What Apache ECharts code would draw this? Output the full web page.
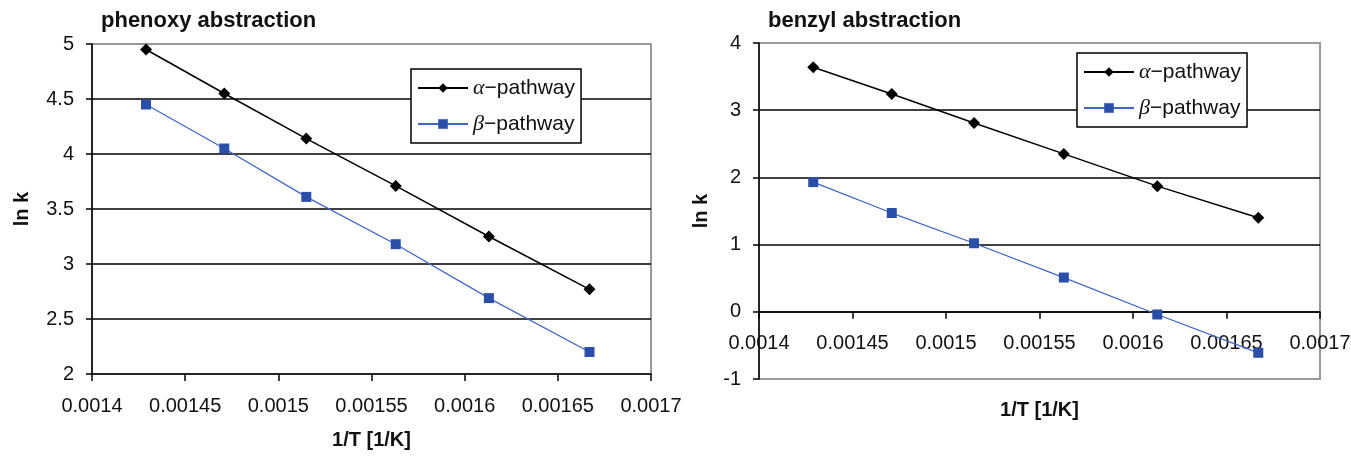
<!DOCTYPE html>
<html><head><meta charset="utf-8">
<script src="https://cdn.jsdelivr.net/npm/echarts@6/dist/echarts.min.js"></script>
<style>html,body{margin:0;padding:0;background:#fff}#c{width:1351px;height:456px}</style>
</head><body><div id="c"></div>
<script>
// inverse temperature values (1/K)
const invT = [0.001429, 0.001471, 0.001515, 0.001563, 0.001613, 0.001667];
// phenoxy abstraction, ln k
const phenoxyAlpha = [4.95, 4.55, 4.14, 3.71, 3.25, 2.77];
const phenoxyBeta  = [4.45, 4.05, 3.61, 3.18, 2.69, 2.20];
// benzyl abstraction, ln k
const benzylAlpha = [3.64, 3.24, 2.81, 2.35, 1.87, 1.40];
const benzylBeta  = [1.93, 1.47, 1.02, 0.51, -0.04, -0.61];
const xTickLabels = ['0.0014', '0.00145', '0.0015', '0.00155', '0.0016', '0.00165', '0.0017'];
const seriesNames = ['α−pathway', 'β−pathway'];
const titles = ['phenoxy abstraction', 'benzyl abstraction'];
const xName = '1/T [1/K]';
const yName = 'ln k';

const FONT = 'Liberation Sans';
const FS = 20;
const BLACK = '#000';
const BLUE_M = '#2A4FA8';
const BLUE_L = '#3F66C8';

function pairs(xs, ys) { return xs.map((x, i) => [x, ys[i]]); }

function xAxis(gi, gap, margin, onZero) {
  return {
    type: 'value', gridIndex: gi, min: 0.0014, max: 0.0017, interval: 0.00005,
    axisLine: { show: true, onZero: onZero, lineStyle: { color: BLACK, width: 1.5 } },
    axisTick: { show: true, length: 7, lineStyle: { color: BLACK, width: 1.5 } },
    axisLabel: { color: '#111', fontFamily: FONT, fontSize: FS, margin: margin,
      formatter: v => xTickLabels[Math.round((v - 0.0014) / 0.00005)] },
    splitLine: { show: false },
    name: xName, nameLocation: 'middle', nameGap: gap,
    nameTextStyle: { color: '#111', fontFamily: FONT, fontSize: FS, fontWeight: 'bold' }
  };
}
function yAxis(gi, min, max, interval, gap) {
  return {
    type: 'value', gridIndex: gi, min: min, max: max, interval: interval,
    axisLine: { show: true, onZero: false, lineStyle: { color: BLACK, width: 1.5 } },
    axisTick: { show: true, length: 6, lineStyle: { color: BLACK, width: 1.5 } },
    axisLabel: { color: '#111', fontFamily: FONT, fontSize: FS, margin: 18 },
    splitLine: { show: true, showMinLine: false, showMaxLine: false, lineStyle: { color: BLACK, width: 1.5 } },
    name: yName, nameLocation: 'middle', nameGap: gap,
    nameTextStyle: { color: '#111', fontFamily: FONT, fontSize: FS, fontWeight: 'bold' }
  };
}
function mkSeries(gi, name, data, isAlpha) {
  return {
    type: 'line', name: name, xAxisIndex: gi, yAxisIndex: gi, data: data,
    symbol: isAlpha ? 'diamond' : 'rect', symbolSize: isAlpha ? [12, 12] : [10, 10],
    showAllSymbol: true,
    lineStyle: { color: isAlpha ? BLACK : BLUE_L, width: isAlpha ? 1.5 : 1.3 },
    itemStyle: { color: isAlpha ? BLACK : BLUE_M },
    emphasis: { disabled: true }, animation: false, z: 5
  };
}
function legend(left, top) {
  return {
    left: left, top: top, orient: 'vertical',
    backgroundColor: '#fff', borderColor: BLACK, borderWidth: 1.5,
    padding: [7, 6, 7, 6], itemGap: 12, itemWidth: 50, itemHeight: 12,
    data: seriesNames,
    selectedMode: false,
    formatter: n => '{g|' + n.charAt(0) + '}' + n.slice(1),
    textStyle: { color: '#111', fontFamily: FONT, fontSize: 21, lineHeight: 24,
      rich: { g: { fontFamily: 'Liberation Serif', fontStyle: 'italic', fontSize: 22, lineHeight: 24, color: '#111' } } },
    z: 10
  };
}

const chart = echarts.init(document.getElementById('c'), null, { renderer: 'canvas' });
chart.setOption({
  animation: false,
  backgroundColor: '#fff',
  title: [
    { text: titles[0], left: 101, top: 10, padding: 0,
      textStyle: { fontFamily: FONT, fontSize: 22, fontWeight: 'bold', color: '#111' } },
    { text: titles[1], left: 768, top: 10, padding: 0,
      textStyle: { fontFamily: FONT, fontSize: 22, fontWeight: 'bold', color: '#111' } }
  ],
  legend: [legend(411, 69), legend(1077, 53)],
  grid: [
    { left: 92, top: 44, width: 559, height: 330, show: true, borderColor: '#999', borderWidth: 2,
      containLabel: false, outerBoundsMode: 'none' },
    { left: 759, top: 43, width: 561, height: 336, show: true, borderColor: '#999', borderWidth: 2,
      containLabel: false, outerBoundsMode: 'none' }
  ],
  xAxis: [xAxis(0, 56, 22, false), xAxis(1, 21, -46, true)],
  yAxis: [yAxis(0, 2, 5, 0.5, 60), yAxis(1, -1, 4, 1, 48)],
  series: [
    mkSeries(0, seriesNames[0], pairs(invT, phenoxyAlpha), true),
    mkSeries(0, seriesNames[1], pairs(invT, phenoxyBeta), false),
    mkSeries(1, seriesNames[0], pairs(invT, benzylAlpha), true),
    mkSeries(1, seriesNames[1], pairs(invT, benzylBeta), false)
  ]
});
</script>
</body></html>
